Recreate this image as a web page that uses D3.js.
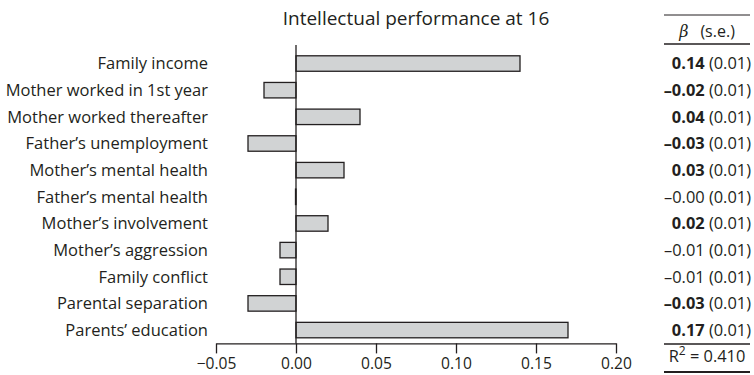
<!DOCTYPE html>
<html><head><meta charset="utf-8">
<script src="https://cdn.jsdelivr.net/npm/d3@7"></script>
<style>
html,body{margin:0;padding:0;background:#fff;}
text{font-family:"Open Sans",sans-serif;fill:#231f20;}
</style></head>
<body><svg id="chart" width="754" height="375"></svg>
<script>
const categories = ["Family income","Mother worked in 1st year","Mother worked thereafter","Father’s unemployment","Mother’s mental health","Father’s mental health","Mother’s involvement","Mother’s aggression","Family conflict","Parental separation","Parents’ education"];
const beta = [0.14,-0.02,0.04,-0.03,0.03,-0.0003,0.02,-0.01,-0.01,-0.03,0.17];
const betaLabels = ["0.14","–0.02","0.04","–0.03","0.03","–0.00","0.02","–0.01","–0.01","–0.03","0.17"];
const seLabels = ["(0.01)","(0.01)","(0.01)","(0.01)","(0.01)","(0.01)","(0.01)","(0.01)","(0.01)","(0.01)","(0.01)"];
const significant = [true,true,true,true,true,false,true,false,false,true,true];
const xTicks = [-0.05,0,0.05,0.10,0.15,0.20];
const title = "Intellectual performance at 16";
const r2 = "0.410";

const svg = d3.select("#chart");
const x = d3.scaleLinear().domain([-0.05,0.20]).range([216,616]);
const y = d3.scaleBand().domain(categories).range([50.2,343.4]).paddingInner(0.42).paddingOuter(0.21);
const bw = y.bandwidth();
const ink = "#231f20";

svg.append("text").attr("x",416).attr("y",25).attr("text-anchor","middle")
  .style("font-size","19px").text(title);

// bars
svg.append("g").selectAll("rect").data(categories).join("rect")
  .attr("x",(d,i)=>x(Math.min(0,beta[i])))
  .attr("width",(d,i)=>Math.abs(x(beta[i])-x(0)))
  .attr("y",d=>y(d)).attr("height",bw)
  .attr("fill","#d1d3d4").attr("stroke",ink).attr("stroke-width",1.3);

// zero line
svg.append("line").attr("x1",x(0)).attr("x2",x(0)).attr("y1",45).attr("y2",343.4)
  .attr("stroke",ink).attr("stroke-width",1.3);

// category labels
svg.append("g").selectAll("text").data(categories).join("text")
  .attr("x",208).attr("y",d=>y(d)+bw/2).attr("dy","0.36em")
  .attr("text-anchor","end").style("font-size","16.5px").text(d=>d);

// axis
const ax = svg.append("g").attr("transform","translate(0,343.4)")
  .call(d3.axisBottom(x).tickValues(xTicks).tickFormat(d3.format(".2f"))
    .tickSize(10).tickSizeOuter(0).tickPadding(5));
ax.select(".domain").attr("stroke",ink).attr("stroke-width",1.3);
ax.selectAll(".tick line").attr("stroke",ink).attr("stroke-width",1.3);
ax.selectAll(".tick text").style("font-size","15.6px").style("font-family","'Open Sans',sans-serif").attr("fill",ink);

// table
const tx0 = 664, tx1 = 750, tr = 751;
svg.append("line").attr("x1",tx0).attr("x2",tx1).attr("y1",15).attr("y2",15).attr("stroke",ink).attr("stroke-width",1);
svg.append("line").attr("x1",tx0).attr("x2",tx1).attr("y1",44).attr("y2",44).attr("stroke",ink).attr("stroke-width",1.5);
svg.append("line").attr("x1",tx0).attr("x2",tx1).attr("y1",344).attr("y2",344).attr("stroke",ink).attr("stroke-width",1.5);
svg.append("line").attr("x1",tx0).attr("x2",tx1).attr("y1",372).attr("y2",372).attr("stroke",ink).attr("stroke-width",1.8);

const hdr = svg.append("text").attr("x",707).attr("y",37).attr("text-anchor","middle").style("font-size","16px");
hdr.append("tspan").style("font-style","italic").style("font-family","'DejaVu Serif',serif").text("β");
hdr.append("tspan").attr("dx",12).text("(s.e.)");

const rows = svg.append("g").selectAll("text").data(categories).join("text")
  .attr("x",tr).attr("y",d=>y(d)+bw/2).attr("dy","0.36em")
  .attr("text-anchor","end").style("font-size","16.4px");
rows.append("tspan").style("font-weight",(d,i)=>significant[i]?"bold":"normal").text((d,i)=>betaLabels[i]);
rows.append("tspan").text((d,i)=>" "+seLabels[i]);

const r = svg.append("text").attr("x",707).attr("y",361.7).attr("text-anchor","middle").style("font-size","16.4px");
r.append("tspan").text("R");
r.append("tspan").attr("dy",-7).style("font-size","12px").text("2");
r.append("tspan").attr("dy",7).text(" = "+r2);
</script></body></html>
